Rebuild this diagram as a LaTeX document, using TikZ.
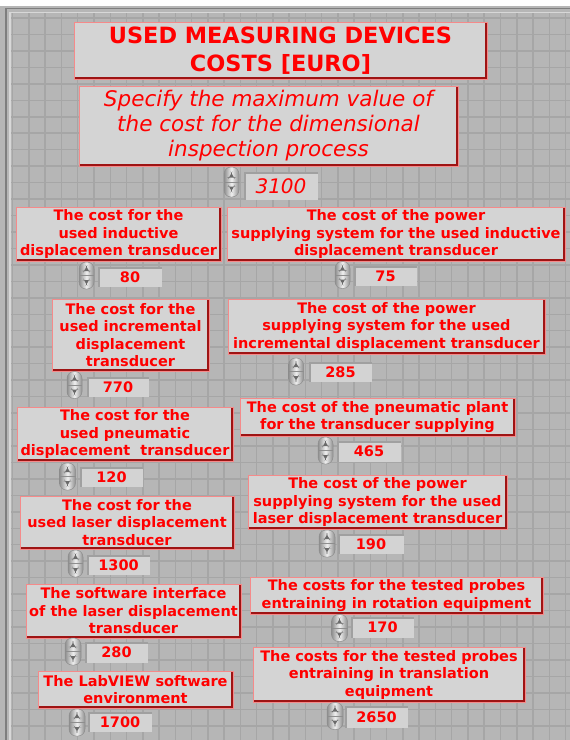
\documentclass[tikz,border=0pt]{standalone}
\usepackage{fontspec}
\setmainfont{DejaVu Sans}[ItalicFont={DejaVu Sans Oblique},BoldFont={DejaVu Sans Bold}]
\usepackage{tikz}
\usetikzlibrary{positioning}
\definecolor{panel}{HTML}{B6B6B6}
\definecolor{gridgray}{HTML}{A6A6A6}
\definecolor{framedark}{HTML}{7E7E7E}
\definecolor{framelight}{HTML}{D8D8D8}
\definecolor{card}{HTML}{D4D4D4}
\definecolor{cardedge}{HTML}{F58A8A}
\definecolor{cardshade}{HTML}{9E1414}
\definecolor{labelred}{HTML}{FF0000}
\definecolor{fieldfill}{HTML}{D3D3D3}
\definecolor{fielddark}{HTML}{A0A0A0}
\definecolor{spinedge}{HTML}{8E8E8E}
\definecolor{spinmid}{HTML}{EFEFEF}
\definecolor{spinmark}{HTML}{6A6A6A}
\tikzset{
  costcard/.style={draw=cardedge,fill=card,line width=0.7pt,inner sep=1pt,align=center,
                   text=labelred,font=\fontsize{14.5}{17.5}\selectfont\bfseries,
                   path picture={\draw[cardshade,line width=4.2pt]
                     (path picture bounding box.north east) -- (path picture bounding box.south east)
                     -- (path picture bounding box.south west);}},
  titlecard/.style={costcard,font=\fontsize{22.4}{28}\selectfont\bfseries},
  askcard/.style={costcard,font=\fontsize{21.5}{25}\selectfont\itshape},
  valfield/.style={fill=fieldfill,inner sep=0pt,minimum width=63pt,minimum height=20pt,
                   text=labelred,font=\fontsize{14.5}{17.5}\selectfont\bfseries,
                   path picture={\draw[fielddark,line width=3pt]
                     (path picture bounding box.south west) -- (path picture bounding box.north west)
                     -- (path picture bounding box.north east);}},
  spinner/.style={draw=spinedge,line width=0.5pt,rounded corners=7pt,
                  left color=spinedge,right color=spinedge,middle color=spinmid,
                  minimum width=15pt,minimum height=27pt,inner sep=0pt,
                  path picture={
                    \draw[spinedge,line width=0.6pt] (path picture bounding box.west) -- (path picture bounding box.east);
                    \fill[spinmark] ([yshift=9pt]path picture bounding box.center)
                      -- ([xshift=-2.5pt,yshift=4.5pt]path picture bounding box.center)
                      -- ([xshift=2.5pt,yshift=4.5pt]path picture bounding box.center) -- cycle;
                    \fill[spinmark] ([yshift=-9pt]path picture bounding box.center)
                      -- ([xshift=-2.5pt,yshift=-4.5pt]path picture bounding box.center)
                      -- ([xshift=2.5pt,yshift=-4.5pt]path picture bounding box.center) -- cycle;}},
  gridline/.style={gridgray,line width=1.5pt}
}

\begin{document}
\begin{tikzpicture}[x=1pt,y=-1pt]
  \useasboundingbox (0,0) rectangle (570,740);
  \fill[panel] (0,0) rectangle (570,740);
  \foreach \i in {0,...,34} \draw[gridline] ({12.7+16.26*\i},12) -- ++(0,728);
  \foreach \j in {0,...,44} \draw[gridline] (10,{18+16.46*\j}) -- ++(560,0);
  \fill[white] (0,0) rectangle (570,6);
  \draw[framedark,line width=1.6pt] (6,740) -- (6,8.5) -- (570,8.5);
  \draw[framelight,line width=1.4pt] (10,740) -- (10,12.5) -- (570,12.5);

  \node[titlecard,minimum width=413pt,minimum height=57pt] (title) at (280.5,50.5) {USED MEASURING DEVICES\\COSTS [EURO]};
  \node[askcard,minimum width=379pt,minimum height=80pt] (ask) at (268.5,126) {Specify the maximum value of\\the cost for the dimensional\\inspection process};
  \node[spinner,minimum height=30pt] (maxspin) at (231.5,182) {};
  \node[valfield,minimum width=74pt,minimum height=28pt,font=\fontsize{20}{22}\selectfont\itshape] (maxval) at (281,186) {3100};

  \node[costcard,minimum width=205pt,minimum height=54pt] (ind) at (118.5,234) {The cost for the\\used inductive\\displacemen transducer};
  \node[spinner] (indspin) at (86.5,275.5) {};
  \node[valfield,minimum width=64pt] (indval) at (130,277) {80};
  \node[costcard,minimum width=338pt,minimum height=54pt] (indpow) at (396,234) {The cost of the power\\supplying system for the used inductive\\displacement transducer};
  \node[spinner] (indpowspin) at (342.5,275) {};
  \node[valfield] (indpowval) at (385.5,276) {75};

  \node[costcard,minimum width=157pt,minimum height=72pt] (inc) at (130.5,335) {The cost for the\\used incremental\\displacement\\transducer};
  \node[spinner] (incspin) at (74.5,385) {};
  \node[valfield,minimum width=62pt] (incval) at (118,387) {770};
  \node[costcard,minimum width=317pt,minimum height=55pt] (incpow) at (386.5,326.5) {The cost of the power\\supplying system for the used\\incremental displacement transducer};
  \node[spinner] (incpowspin) at (296,371.5) {};
  \node[valfield] (incpowval) at (340.5,372) {285};

  \node[costcard,minimum width=216pt,minimum height=54pt] (pneu) at (125,434) {The cost for the\\used pneumatic\\displacement\ \ transducer};
  \node[spinner,minimum width=16pt] (pneuspin) at (67.5,476.5) {};
  \node[valfield] (pneuval) at (111.5,477) {120};
  \node[costcard,minimum width=275pt,minimum height=38pt] (plant) at (377.5,417) {The cost of the pneumatic plant\\for the transducer supplying};
  \node[spinner] (plantspin) at (325.5,450.5) {};
  \node[valfield,minimum width=64pt,minimum height=21pt] (plantval) at (369,451.5) {465};

  \node[costcard,minimum width=214pt,minimum height=53pt] (las) at (127,522.5) {The cost for the\\used laser displacement\\transducer};
  \node[spinner] (lasspin) at (75.5,563.5) {};
  \node[valfield] (lasval) at (118.5,565) {1300};
  \node[costcard,minimum width=259pt,minimum height=54pt] (laspow) at (377.5,502) {The cost of the power\\supplying system for the used\\laser displacement transducer};
  \node[spinner,minimum width=16pt] (laspowspin) at (327,543.5) {};
  \node[valfield,minimum width=66pt] (laspowval) at (371,544) {190};

  \node[costcard,minimum width=215pt,minimum height=54pt] (soft) at (133.5,611) {The software interface\\of the laser displacement\\transducer};
  \node[spinner,minimum width=16pt] (softspin) at (73,651.5) {};
  \node[valfield,minimum height=21pt] (softval) at (116.5,652.5) {280};
  \node[costcard,minimum width=293pt,minimum height=37pt] (rot) at (396.5,595.5) {The costs for the tested probes\\entraining in rotation equipment};
  \node[spinner,minimum width=16pt] (rotspin) at (339.5,628) {};
  \node[valfield,minimum height=21pt] (rotval) at (382.5,627.5) {170};

  \node[costcard,minimum width=195pt,minimum height=37pt] (lab) at (135.5,689.5) {The LabVIEW software\\environment};
  \node[spinner,minimum width=16pt] (labspin) at (77,722.5) {};
  \node[valfield,minimum width=64pt] (labval) at (120,722) {1700};
  \node[costcard,minimum width=272pt,minimum height=55pt] (trans) at (389,674.5) {The costs for the tested probes\\entraining in translation\\equipment};
  \node[spinner,minimum width=16pt] (transspin) at (335,716) {};
  \node[valfield,minimum height=22pt] (transval) at (376.5,717) {2650};
\end{tikzpicture}
\end{document}
